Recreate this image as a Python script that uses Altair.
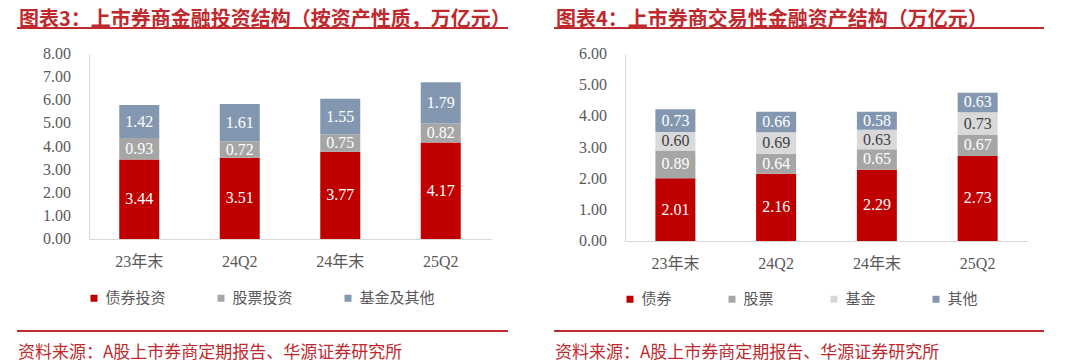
import altair as alt
import pandas as pd

cats = ["23年末", "24Q2", "24年末", "25Q2"]

# Left chart: 上市券商金融投资结构（按资产性质）
left_title = "图表3：上市券商金融投资结构（按资产性质，万亿元）"
left_series = ["债券投资", "股票投资", "基金及其他"]
left_bond = [3.44, 3.51, 3.77, 4.17]
left_stock = [0.93, 0.72, 0.75, 0.82]
left_fund_other = [1.42, 1.61, 1.55, 1.79]
left_colors = ["#C00000", "#A6A6A6", "#8497B0"]
left_yticks = [0, 1, 2, 3, 4, 5, 6, 7, 8]

# Right chart: 上市券商交易性金融资产结构
right_title = "图表4：上市券商交易性金融资产结构（万亿元）"
right_series = ["债券", "股票", "基金", "其他"]
right_bond = [2.01, 2.16, 2.29, 2.73]
right_stock = [0.89, 0.64, 0.65, 0.67]
right_fund = [0.60, 0.69, 0.63, 0.73]
right_other = [0.73, 0.66, 0.58, 0.63]
right_colors = ["#C00000", "#A6A6A6", "#D9D9D9", "#8497B0"]
right_yticks = [0, 1, 2, 3, 4, 5, 6]

source_text = "资料来源：A股上市券商定期报告、华源证券研究所"

RED = "#BE2A2E"
AXIS_GRAY = "#D9D9D9"
TEXT_GRAY = "#595959"
NUM_FONT = "Liberation Serif, Noto Sans CJK SC"
CJK_FONT = "Noto Sans CJK SC"


def long_df(series, arrays):
    rows = []
    for k, (name, vals) in enumerate(zip(series, arrays)):
        for c, v in zip(cats, vals):
            rows.append({"cat": c, "series": name, "value": v, "ord": k})
    return pd.DataFrame(rows)


def panel(df, series, colors, yticks, width, height, title, legend_x,
          legend_y, col_pad, title_x, rule_x1, rule_x2):
    base = alt.Chart(df)
    x_axis = alt.Axis(labelAngle=0, ticks=False, domainColor=AXIS_GRAY,
                      domainWidth=1, labelFont=NUM_FONT, labelFontSize=16,
                      labelColor=TEXT_GRAY, labelPadding=14)
    y_axis = alt.Axis(values=yticks, labels=False, grid=False, ticks=False,
                      domainColor=AXIS_GRAY)
    y_scale = alt.Scale(domain=[0, max(yticks)], nice=False)
    x_scale = alt.Scale(paddingInner=0, paddingOuter=0)
    bars = base.mark_bar(size=40).encode(
        x=alt.X("cat:N", sort=cats, title=None, scale=x_scale, axis=x_axis),
        y=alt.Y("value:Q", stack="zero", title=None, scale=y_scale,
                axis=y_axis),
        color=alt.Color("series:N",
                        scale=alt.Scale(domain=series, range=colors),
                        legend=alt.Legend(orient="none", legendX=legend_x,
                                          legendY=legend_y,
                                          direction="horizontal",
                                          columns=len(series), title=None,
                                          symbolType="square", symbolSize=49,
                                          symbolStrokeWidth=0,
                                          labelFont=CJK_FONT, labelFontSize=15,
                                          labelColor=TEXT_GRAY, labelOffset=4,
                                          columnPadding=col_pad, padding=0)),
        order=alt.Order("ord:Q", sort="ascending"),
    )
    labels = base.transform_stack(
        stack="value", groupby=["cat"], as_=["v0", "v1"],
        sort=[alt.SortField("ord", order="ascending")],
    ).transform_calculate(
        mid="(datum.v0 + datum.v1) / 2"
    ).mark_text(font=NUM_FONT, fontSize=16, baseline="middle").encode(
        x=alt.X("cat:N", sort=cats, title=None, scale=x_scale, axis=x_axis),
        y=alt.Y("mid:Q", title=None, scale=y_scale, axis=y_axis),
        text=alt.Text("value:Q", format=".2f"),
        color=alt.condition("datum.series == '基金'", alt.value("#404040"),
                            alt.value("white")),
    )
    ylabels = alt.Chart(pd.DataFrame({"v": yticks})).mark_text(
        align="right", baseline="middle", font=NUM_FONT, fontSize=16,
        color=TEXT_GRAY,
    ).encode(
        x=alt.value(-18),
        y=alt.Y("v:Q", title=None, scale=y_scale, axis=y_axis),
        text=alt.Text("v:Q", format=".2f"),
    )
    ttl = alt.Chart(pd.DataFrame({"t": [title]})).mark_text(
        align="left", baseline="top", font=CJK_FONT, fontWeight="bold",
        fontSize=20, color=RED,
    ).encode(x=alt.value(title_x), y=alt.value(-44), text="t:N")
    top_rule = alt.Chart(pd.DataFrame({"r": [0]})).mark_rule(
        color=RED, strokeWidth=2).encode(
        x=alt.value(rule_x1), x2=alt.value(rule_x2), y=alt.value(-26))
    bot_rule = alt.Chart(pd.DataFrame({"r": [0]})).mark_rule(
        color=RED, strokeWidth=2).encode(
        x=alt.value(rule_x1), x2=alt.value(rule_x2), y=alt.value(277))
    src = alt.Chart(pd.DataFrame({"t": [source_text]})).mark_text(
        align="left", baseline="middle", font=CJK_FONT, fontSize=17,
        color=RED,
    ).encode(x=alt.value(rule_x1 + 1), y=alt.value(299), text="t:N")
    return alt.layer(bars, labels, ylabels, ttl, top_rule, bot_rule,
                     src).properties(width=width, height=height)


left_df = long_df(left_series, [left_bond, left_stock, left_fund_other])
right_df = long_df(right_series, [right_bond, right_stock, right_fund, right_other])

left = panel(left_df, left_series, left_colors, left_yticks, 402, 185,
             left_title, -2.5, 236.5, 47, -70, -72, 419)
right = panel(right_df, right_series, right_colors, right_yticks, 403, 187,
              right_title, -2.5, 237.5, 52, -69, -71, 419)

chart = alt.hconcat(left, right, spacing=134).resolve_scale(
    color="independent", x="independent", y="independent"
).properties(
    bounds="flush",
    padding={"left": 8, "top": 2, "right": 5, "bottom": 3},
).configure_view(stroke=None)

chart.save("out.html", embed_options={"renderer": "svg", "actions": False})
